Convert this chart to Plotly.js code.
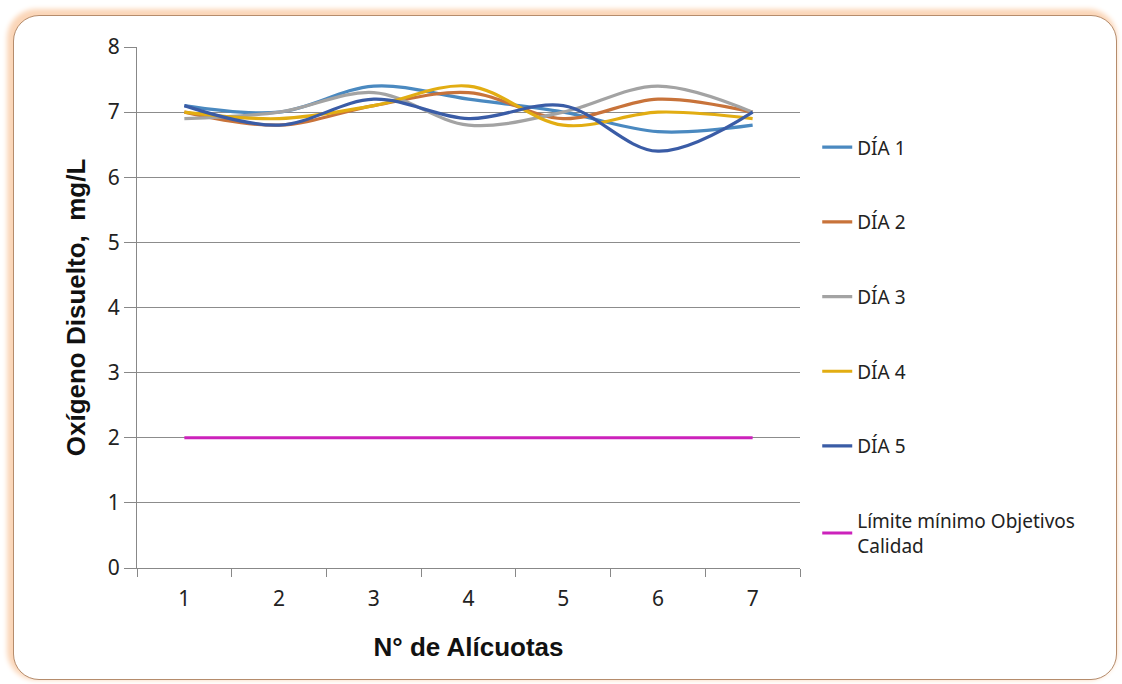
<!DOCTYPE html>
<html>
<head>
<meta charset="utf-8">
<script src="https://cdn.plot.ly/plotly-3.0.1.min.js"></script>
<style>
  html, body { margin:0; padding:0; background:#ffffff; }
  #frame { position:absolute; left:13px; top:15px; width:1102px; height:663px;
           border:1.5px solid #b58c6c; border-radius:26px;
           box-shadow: -3px -3px 5px 3px #fbd6b8; background:#ffffff; z-index:0; }
  #chart { position:absolute; left:0; top:0; width:1122px; height:684px; z-index:1; }
</style>
</head>
<body>
<div id="frame"></div>
<div id="chart"></div>
<script>
const categories = ["1", "2", "3", "4", "5", "6", "7"];
const dia1 = [7.1, 7.0, 7.4, 7.2, 7.0, 6.7, 6.8];
const dia2 = [7.0, 6.8, 7.1, 7.3, 6.9, 7.2, 7.0];
const dia3 = [6.9, 7.0, 7.3, 6.8, 7.0, 7.4, 7.0];
const dia4 = [7.0, 6.9, 7.1, 7.4, 6.8, 7.0, 6.9];
const dia5 = [7.1, 6.8, 7.2, 6.9, 7.1, 6.4, 7.0];
const limite = [2, 2, 2, 2, 2, 2, 2];
const seriesNames = ["DÍA 1", "DÍA 2", "DÍA 3", "DÍA 4", "DÍA 5", "Límite mínimo Objetivos<br>Calidad"];
const yTicks = [0, 1, 2, 3, 4, 5, 6, 7, 8];

const colors = ["#4a89c0", "#c8733a", "#a3a3a3", "#e2ad12", "#3a5ca6", "#cc22bb"];
const allSeries = [dia1, dia2, dia3, dia4, dia5, limite];

const traces = allSeries.map((vals, i) => ({
  x: categories,
  y: vals,
  type: 'scatter',
  mode: 'lines',
  name: seriesNames[i],
  legendgroup: 'g' + i,
  line: { color: colors[i], width: 3.2, shape: 'spline', smoothing: 1 }
}));

const layout = {
  width: 1122, height: 684,
  paper_bgcolor: 'rgba(0,0,0,0)',
  plot_bgcolor: 'rgba(0,0,0,0)',
  margin: { l: 137, r: 322, t: 47, b: 116 },
  font: { family: 'Noto Sans, sans-serif', color: '#222' },
  xaxis: {
    type: 'category',
    range: [-0.5, 6.5],
    tickson: 'boundaries',
    ticks: 'outside', ticklen: 8, tickcolor: '#888', tickwidth: 1,
    ticklabelstandoff: 12,
    showline: true, linecolor: '#888', linewidth: 1,
    showgrid: false, zeroline: false,
    tickfont: { family: 'Noto Sans, sans-serif', size: 21, color: '#222' },
    title: { text: 'N° de Alícuotas', standoff: 26,
             font: { family: 'Liberation Sans, Arial, sans-serif', size: 26, color: '#111', weight: 'bold' } }
  },
  yaxis: {
    range: [0, 8],
    tickvals: yTicks,
    ticks: 'outside', ticklen: 12, tickcolor: '#888', tickwidth: 1,
    showline: true, linecolor: '#888', linewidth: 1,
    showgrid: true, gridcolor: '#8c8c8c', gridwidth: 1,
    zeroline: false,
    tickfont: { family: 'Noto Sans, sans-serif', size: 21, color: '#222' },
    title: { text: 'Oxígeno Disuelto,  mg/L', standoff: 14,
             font: { family: 'Liberation Sans, Arial, sans-serif', size: 26, color: '#111', weight: 'bold' } }
  },
  legend: {
    x: 1.026, xanchor: 'left',
    y: 0.844, yanchor: 'top',
    tracegroupgap: 47,
    font: { family: 'Noto Sans, sans-serif', size: 19, color: '#222' },
    bgcolor: 'rgba(0,0,0,0)'
  },
  showlegend: true
};

Plotly.newPlot('chart', traces, layout, { displayModeBar: false, staticPlot: true });
</script>
</body>
</html>
